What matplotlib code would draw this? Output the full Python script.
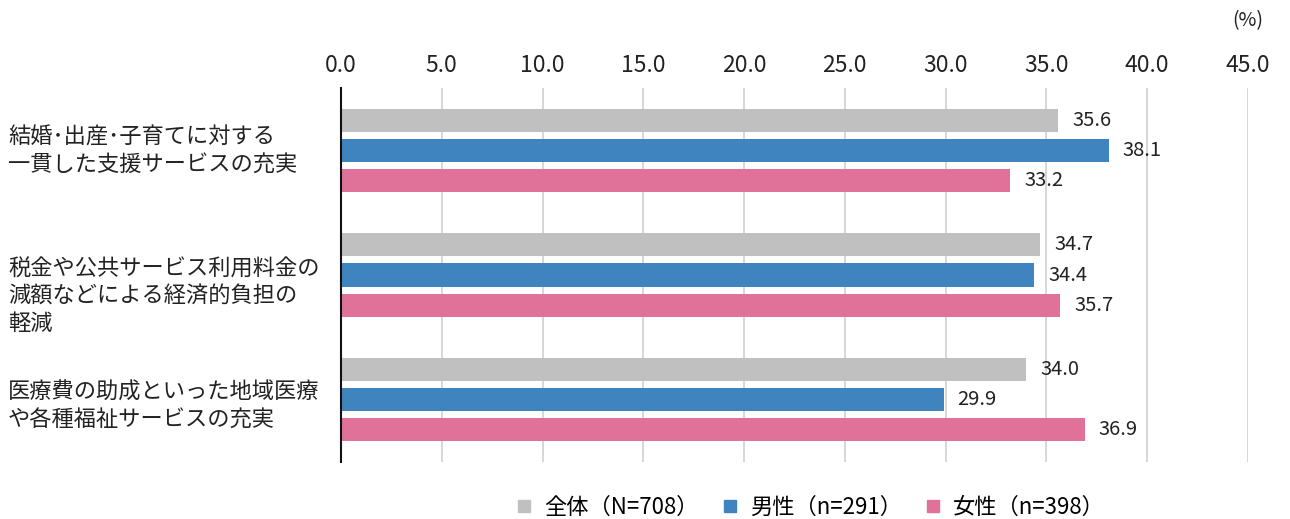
import matplotlib
matplotlib.use("Agg")
import matplotlib.pyplot as plt
from matplotlib.lines import Line2D
import numpy as np

plt.rcParams['font.family'] = ['Noto Sans CJK JP', 'DejaVu Sans']

# data
categories = [
    "結婚･出産･子育てに対する\n一貫した支援サービスの充実",
    "税金や公共サービス利用料金の\n減額などによる経済的負担の\n軽減",
    "医療費の助成といった地域医療\nや各種福祉サービスの充実",
]
series_names = ["全体（N=708）", "男性（n=291）", "女性（n=398）"]
total = [35.6, 34.7, 34.0]
male = [38.1, 34.4, 29.9]
female = [33.2, 35.7, 36.9]
xticks = [0, 5, 10, 15, 20, 25, 30, 35, 40, 45]

colors = ["#C0C0C0", "#3F84BF", "#E07199"]
values = [total, male, female]

fig = plt.figure(figsize=(12.9, 5.19), dpi=100)
ax = fig.add_axes([0.2643, 0.1098, 0.7031, 0.7206])

y = np.arange(len(categories))
step = 0.242
height = 0.185
for i, (vals, col) in enumerate(zip(values, colors)):
    pos = y + (i - 1) * step
    ax.barh(pos, vals, height=height, color=col, zorder=3)
    for p, v in zip(pos, vals):
        ax.annotate("{:.1f}".format(v), xy=(v, p), xytext=(10, 0),
                    textcoords="offset points", va="center", ha="left",
                    fontsize=14.5, color="#222222")

ax.set_xlim(0, 45)
ax.set_ylim(2.5, -0.5)
ax.set_xticks(xticks)
ax.set_xticklabels(["{:.1f}".format(t) for t in xticks], fontsize=16.5, color="#222222")
ax.xaxis.tick_top()
ax.tick_params(axis="x", length=0, pad=8)
ax.set_yticks([])
ax.grid(axis="x", color="#D0D0D0", linewidth=1.2, zorder=0)
for s in ["top", "right", "bottom"]:
    ax.spines[s].set_visible(False)
ax.spines["left"].set_color("#111111")
ax.spines["left"].set_linewidth(1.5)
ax.spines["left"].set_zorder(4)

# category labels, left aligned in the margin
label_offsets = [0.0, 0.17, 0.05]
for yi, lab, off in zip(y, categories, label_offsets):
    ax.text(-0.367, yi + off, lab, transform=ax.get_yaxis_transform(),
            ha="left", va="center", fontsize=16, linespacing=1.25, color="#222222")

fig.text(1248 / 1290, 1 - 21 / 519, "(%)", ha="center", va="center",
         fontsize=14, color="#222222")

handles = [Line2D([0], [0], marker="s", linestyle="none", markersize=9,
                  markerfacecolor=c, markeredgecolor=c) for c in colors]
fig.legend(handles, series_names, loc="center", ncol=3,
           bbox_to_anchor=(0.627, 0.022), frameon=False, fontsize=16,
           handletextpad=0.4, columnspacing=0.9, handlelength=1.0)

fig.savefig("out.png", dpi=100)
